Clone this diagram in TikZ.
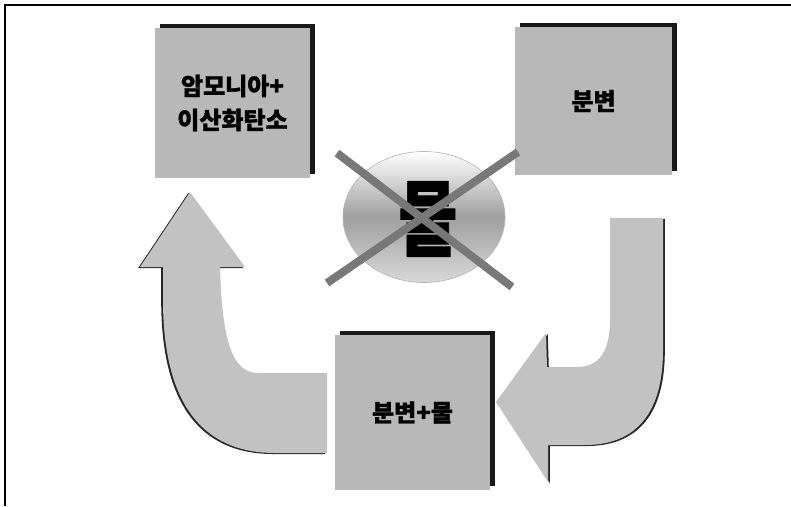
\documentclass[tikz,border=0pt]{standalone}
\usepackage{fontspec}
\newfontfamily\kr{Noto Sans CJK KR}
\usetikzlibrary{shapes.geometric,shadows}
\definecolor{boxgray}{gray}{0.72}
\definecolor{arrowgray}{gray}{0.76}
\definecolor{crossgray}{gray}{0.47}
\tikzset{
  labelbox/.style={fill=boxgray, draw=none, inner sep=0pt, align=center,
    font=\kr\bfseries\addfontfeatures{FakeBold=1.3}\fontsize{24}{30}\selectfont,
    general shadow={shadow xshift=5pt, shadow yshift=4pt, fill=black!90}},
  blockarrow/.style={fill=arrowgray, draw=none},
  arrowshadow/.style={fill=black!85, draw=none},
  crossline/.style={draw=crossgray, line width=8pt},
  frameline/.style={draw=black, line width=2pt}
}
\begin{document}
\begin{tikzpicture}[x=1pt,y=-1pt]
\useasboundingbox (0,0) rectangle (791,506);
% frame
\coordinate (f1) at (5,506);
\coordinate (f2) at (5,5);
\coordinate (f3) at (791,5);
\draw[frameline] (f1) -- (f2) -- (f3);

% boxes
\node[labelbox, minimum width=155pt, minimum height=150pt] (amm) at (232.5,103) {암모니아+\\[4pt]이산화탄소};
\node[labelbox, minimum width=157pt, minimum height=148pt] (feces) at (593.5,101) {분변};
\node[labelbox, minimum width=155pt, minimum height=155pt] (fw) at (412.5,412.5) {분변+물};

% left arrow (up)
\begin{scope}[xshift=-1.8pt, yshift=-1pt]
\fill[arrowshadow] (190,192) -- (245,267) -- (220,267) .. controls (222,340) and (232,373) .. (258,373) -- (327,373) -- (327,453) -- (275,453) .. controls (200,453) and (163,400) .. (163,300) -- (163,267) -- (140,267) -- cycle;
\end{scope}
\fill[blockarrow] (190,192) -- (245,267) -- (220,267) .. controls (222,340) and (232,373) .. (258,373) -- (327,373) -- (327,453) -- (275,453) .. controls (200,453) and (163,400) .. (163,300) -- (163,267) -- (140,267) -- cycle;

% right arrow (left)
\begin{scope}[xshift=1.8pt, yshift=-1pt]
\fill[arrowshadow] (610,218) -- (663,218) -- (663,350) .. controls (663,420) and (630,445) .. (585,445) -- (548,445) -- (548,482) -- (496,402) -- (546,333) -- (547,367) -- (577,367) .. controls (600,367) and (610,350) .. (610,320) -- cycle;
\end{scope}
\fill[blockarrow] (610,218) -- (663,218) -- (663,350) .. controls (663,420) and (630,445) .. (585,445) -- (548,445) -- (548,482) -- (496,402) -- (546,333) -- (547,367) -- (577,367) .. controls (600,367) and (610,350) .. (610,320) -- cycle;

% water ellipse
\node[ellipse, minimum width=162pt, minimum height=131pt, draw=gray!60, line width=0.6pt,
  top color=white, bottom color=gray!30, middle color=gray!75] (water) at (424,217) {};
\node[font=\kr\bfseries\addfontfeatures{FakeBold=1}\fontsize{64}{64}\selectfont, text=black, inner sep=0pt] (mul) at (428,219) {\scalebox{1}[1.3]{물}};

% cross
\coordinate (c1) at (337,153);
\coordinate (c2) at (512,287);
\coordinate (c3) at (327,283);
\coordinate (c4) at (518,152);
\draw[crossline] (c1) -- (c2);
\draw[crossline] (c3) -- (c4);
\end{tikzpicture}
\end{document}
